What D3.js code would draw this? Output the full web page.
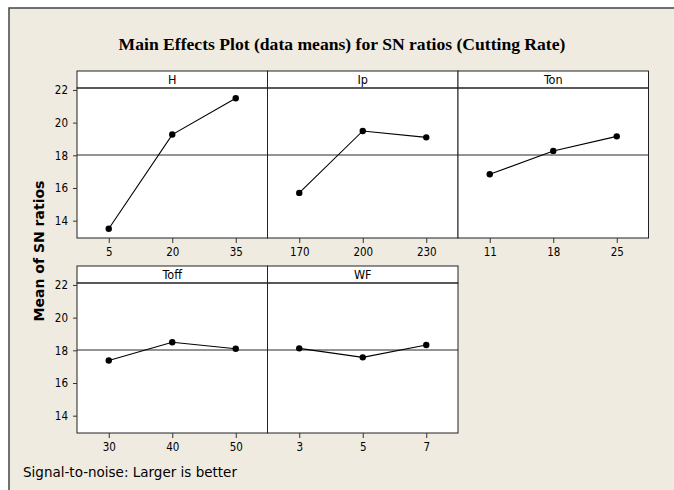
<!DOCTYPE html>
<html>
<head>
<meta charset="utf-8">
<script src="https://cdn.jsdelivr.net/npm/d3@7"></script>
<style>
  body { margin: 0; background: #fff; }
  text { font-family: "DejaVu Sans Condensed", "DejaVu Sans", sans-serif; fill: #000; }
</style>
</head>
<body>
<svg id="chart" width="674" height="490"></svg>
<script>
// factor names and their levels / mean SN ratios
const factors = ["H", "Ip", "Ton", "Toff", "WF"];
const hLevels = ["5", "20", "35"];
const hMeans = [13.51, 19.27, 21.49];
const ipLevels = ["170", "200", "230"];
const ipMeans = [15.70, 19.49, 19.10];
const tonLevels = ["11", "18", "25"];
const tonMeans = [16.84, 18.27, 19.16];
const toffLevels = ["30", "40", "50"];
const toffMeans = [17.38, 18.49, 18.10];
const wfLevels = ["3", "5", "7"];
const wfMeans = [18.12, 17.57, 18.33];
const grandMean = 18.02;
const yTicks = [14, 16, 18, 20, 22];

const panels = [
  {name: factors[0], levels: hLevels, means: hMeans},
  {name: factors[1], levels: ipLevels, means: ipMeans},
  {name: factors[2], levels: tonLevels, means: tonMeans},
  {name: factors[3], levels: toffLevels, means: toffMeans},
  {name: factors[4], levels: wfLevels, means: wfMeans}
];

var svg = d3.select("#chart");

// outer frame (cropped on right and bottom)
svg.append("rect")
  .attr("x", 9).attr("y", 8)
  .attr("width", 700).attr("height", 500)
  .attr("fill", "#efebe1")
  .attr("stroke", "#444")
  .attr("stroke-width", 1.5);

svg.append("text")
  .attr("x", 342).attr("y", 50)
  .attr("text-anchor", "middle")
  .style("font-family", "'Liberation Serif', 'Times New Roman', serif")
  .style("font-weight", "bold")
  .style("font-size", "17.6px")
  .text("Main Effects Plot (data means) for SN ratios (Cutting Rate)");

svg.append("text")
  .attr("transform", "translate(44,251) rotate(-90)")
  .attr("text-anchor", "middle")
  .style("font-family", "'DejaVu Sans', sans-serif")
  .style("font-weight", "bold")
  .style("font-size", "14px")
  .text("Mean of SN ratios");

svg.append("text")
  .attr("x", 23).attr("y", 477)
  .style("font-family", "'DejaVu Sans', sans-serif")
  .style("font-size", "13.5px")
  .text("Signal-to-noise: Larger is better");

var left = 77, panelW = 190.5, stripH = 17, plotH = 150;
var rowTop = [71, 266];

var yScale = d3.scaleLinear().domain([12.94, 22.12]).range([plotH, 0]);

panels.forEach(function(p, i) {
  var col = i % 3, row = Math.floor(i / 3);
  var g = svg.append("g")
    .attr("transform", "translate(" + (left + col * panelW) + "," + (rowTop[row] + stripH) + ")");

  var xScale = d3.scalePoint().domain(p.levels).range([0, panelW]).padding(0.5);

  g.append("rect")
    .attr("width", panelW).attr("height", plotH)
    .attr("fill", "#fff");

  // strip
  g.append("rect")
    .attr("y", -stripH)
    .attr("width", panelW).attr("height", stripH)
    .attr("fill", "#fff")
    .attr("stroke", "#222");
  g.append("text")
    .attr("x", panelW / 2).attr("y", -stripH / 2)
    .attr("dy", "0.36em")
    .attr("text-anchor", "middle")
    .style("font-size", "12.5px")
    .text(p.name);

  // reference line at the overall mean
  g.append("line")
    .attr("x1", 0).attr("x2", panelW)
    .attr("y1", yScale(grandMean)).attr("y2", yScale(grandMean))
    .attr("stroke", "#707070")
    .attr("stroke-width", 1.3);

  var line = d3.line()
    .x((d, j) => xScale(p.levels[j]))
    .y(d => yScale(d));

  g.append("path")
    .attr("d", line(p.means))
    .attr("fill", "none")
    .attr("stroke", "#000")
    .attr("stroke-width", 1.1);

  g.selectAll("circle")
    .data(p.means)
    .enter().append("circle")
    .attr("cx", (d, j) => xScale(p.levels[j]))
    .attr("cy", d => yScale(d))
    .attr("r", 3.2)
    .attr("fill", "#000");

  g.append("rect")
    .attr("width", panelW).attr("height", plotH)
    .attr("fill", "none")
    .attr("stroke", "#222");

  var xAxis = d3.axisBottom(xScale).tickSize(5).tickPadding(5);
  g.append("g")
    .attr("transform", "translate(0," + plotH + ")")
    .call(xAxis)
    .call(a => a.select(".domain").remove())
    .call(a => a.selectAll("text").style("font-size", "11.5px").attr("font-family", null))
    .call(a => a.selectAll("line").attr("stroke", "#333"));

  if (col == 0) {
    var yAxis = d3.axisLeft(yScale).tickValues(yTicks).tickSize(4).tickPadding(5);
    g.append("g")
      .call(yAxis)
      .call(a => a.select(".domain").remove())
      .call(a => a.selectAll("text").style("font-size", "11.5px").attr("font-family", null))
      .call(a => a.selectAll("line").attr("stroke", "#333"));
  }
});
</script>
</body>
</html>
